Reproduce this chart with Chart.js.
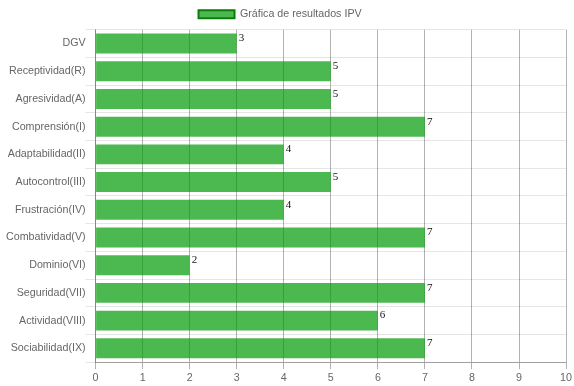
<!DOCTYPE html>
<html>
<head>
<meta charset="utf-8">
<script src="https://cdn.jsdelivr.net/npm/chart.js@4.4.0/dist/chart.umd.min.js"></script>
<style>
    html, body { margin: 0; padding: 0; background: #fff; }
    #wrap { width: 574px; height: 386px; }
</style>
</head>
<body>
<div id="wrap"><canvas id="ipvChart"></canvas></div>
<script>
// Data
const categories = [
    'DGV', 'Receptividad(R)', 'Agresividad(A)', 'Comprensión(I)',
    'Adaptabilidad(II)', 'Autocontrol(III)', 'Frustración(IV)', 'Combatividad(V)',
    'Dominio(VI)', 'Seguridad(VII)', 'Actividad(VIII)', 'Sociabilidad(IX)'
];
const scores = [3, 5, 5, 7, 4, 5, 4, 7, 2, 7, 6, 7];
const seriesLabel = 'Gráfica de resultados IPV';
const xTicks = [0, 1, 2, 3, 4, 5, 6, 7, 8, 9, 10];

const barFill = 'rgba(0, 155, 5, 0.7)';
const barEdge = '#0a7d0a';
const labelFont = { family: '"Liberation Sans", Arial, sans-serif', size: 10.7 };

// Value labels at the end of each bar
const valueLabels = {
    id: 'valueLabels',
    afterDatasetsDraw(chart) {
        const ctx = chart.ctx;
        ctx.save();
        ctx.font = '11px "Liberation Serif", serif';
        ctx.fillStyle = '#111';
        ctx.textAlign = 'left';
        ctx.textBaseline = 'middle';
        chart.getDatasetMeta(0).data.forEach((bar, i) => {
            ctx.fillText(scores[i], bar.x + 2, bar.y - 5);
        });
        ctx.restore();
    }
};

const ctx = document.getElementById('ipvChart').getContext('2d');
new Chart(ctx, {
    type: 'bar',
    data: {
        labels: categories,
        datasets: [{
            label: seriesLabel,
            data: scores,
            backgroundColor: barFill,
            borderWidth: 0,
            categoryPercentage: 0.8,
            barPercentage: 0.9
        }]
    },
    options: {
        indexAxis: 'y',
        responsive: true,
        maintainAspectRatio: false,
        animation: false,
        layout: { padding: { right: 2, top: 0, bottom: 0, left: 6 } },
        plugins: {
            tooltip: { enabled: false },
            legend: {
                position: 'top',
                labels: {
                    boxWidth: 36,
                    boxHeight: 8,
                    padding: 9,
                    color: '#666',
                    font: labelFont,
                    generateLabels: () => [{
                        text: seriesLabel + '      ',
                        fillStyle: barFill,
                        strokeStyle: barEdge,
                        lineWidth: 2,
                        fontColor: '#666'
                    }]
                }
            }
        },
        scales: {
            x: {
                min: 0,
                max: 10,
                afterBuildTicks: axis => {
                    axis.ticks = xTicks.map(v => ({ value: v }));
                },
                grid: { color: 'rgba(0,0,0,0.3)', tickLength: 7 },
                border: { color: 'rgba(0,0,0,0.3)' },
                ticks: { color: '#666', padding: 2, font: labelFont }
            },
            y: {
                grid: { color: 'rgba(0,0,0,0.1)', tickLength: 10 },
                border: { color: 'rgba(0,0,0,0.25)' },
                ticks: { color: '#666', padding: 0, font: labelFont }
            }
        }
    },
    plugins: [valueLabels]
});
</script>
</body>
</html>
